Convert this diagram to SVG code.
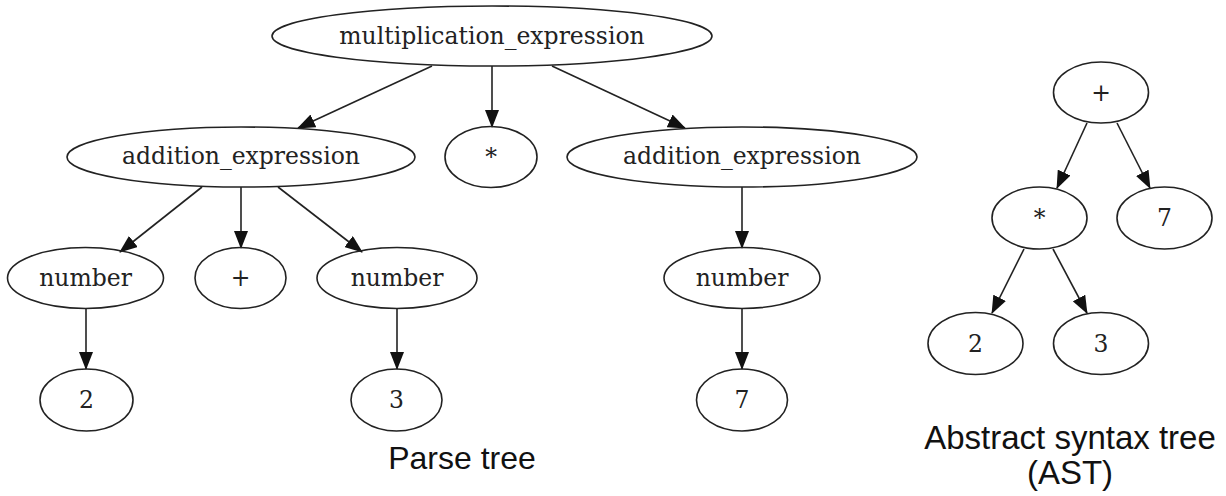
<svg xmlns="http://www.w3.org/2000/svg" width="1226" height="496" viewBox="0 0 1226 496">
<style>
.n ellipse{fill:none;stroke:#222;stroke-width:1.6}
.n text{font-family:"DejaVu Serif",serif;font-size:23.5px;fill:#222;text-anchor:middle}
.e line{stroke:#222;stroke-width:1.6;marker-end:url(#ah)}
.cap{font-family:"Liberation Sans",Arial,sans-serif;font-size:32px;fill:#111;text-anchor:middle}
.cap2{font-size:33px}
</style>
<defs>
<marker id="ah" markerUnits="userSpaceOnUse" markerWidth="18" markerHeight="14" refX="17" refY="7" orient="auto">
<path d="M0,0 L18,7 L0,14 z" fill="#111"/>
</marker>
</defs>
<rect width="1226" height="496" fill="#fff"/>
<g class="e" id="connectors">
<line x1="432" y1="66" x2="298" y2="128"/>
<line x1="492" y1="66" x2="492" y2="127"/>
<line x1="552" y1="66" x2="685" y2="128"/>
<line x1="202" y1="187" x2="120" y2="252"/>
<line x1="241" y1="187" x2="241" y2="248"/>
<line x1="278" y1="187" x2="362" y2="252"/>
<line x1="742" y1="187" x2="742" y2="248"/>
<line x1="86" y1="308" x2="86" y2="369"/>
<line x1="397" y1="308" x2="397" y2="369"/>
<line x1="742" y1="308" x2="742" y2="369"/>
<line x1="1087" y1="123" x2="1057" y2="188"/>
<line x1="1117" y1="123" x2="1150" y2="188"/>
<line x1="1024" y1="249" x2="992" y2="313"/>
<line x1="1053" y1="249" x2="1087" y2="313"/>
</g>
<g class="n" id="mult"><ellipse cx="492" cy="36" rx="220" ry="30"/><text x="492" y="44">multiplication_expression</text></g>
<g class="n" id="addL"><ellipse cx="241" cy="157" rx="174" ry="30"/><text x="241" y="164">addition_expression</text></g>
<g class="n" id="star"><ellipse cx="491" cy="157" rx="46" ry="30.5"/><text x="491" y="165">*</text></g>
<g class="n" id="addR"><ellipse cx="742" cy="157" rx="175" ry="30"/><text x="742" y="164">addition_expression</text></g>
<g class="n" id="numL"><ellipse cx="85.5" cy="278" rx="78" ry="30.5"/><text x="85.5" y="286">number</text></g>
<g class="n" id="plus"><ellipse cx="240.5" cy="278" rx="45.5" ry="30.5"/><text x="240.5" y="286">+</text></g>
<g class="n" id="numM"><ellipse cx="397" cy="278" rx="80" ry="30.5"/><text x="397" y="286">number</text></g>
<g class="n" id="numR"><ellipse cx="742" cy="278" rx="78" ry="30.5"/><text x="742" y="286">number</text></g>
<g class="n" id="two"><ellipse cx="86.5" cy="400" rx="46.5" ry="31"/><text x="86.5" y="408">2</text></g>
<g class="n" id="three"><ellipse cx="396.5" cy="400" rx="45.5" ry="31"/><text x="396.5" y="408">3</text></g>
<g class="n" id="seven"><ellipse cx="742" cy="400" rx="45.5" ry="31"/><text x="742" y="408">7</text></g>
<g class="n" id="astPlus"><ellipse cx="1101" cy="92.5" rx="47.5" ry="30.5"/><text x="1101" y="100.5">+</text></g>
<g class="n" id="astStar"><ellipse cx="1039.5" cy="218" rx="47.5" ry="31"/><text x="1039.5" y="226">*</text></g>
<g class="n" id="astSeven"><ellipse cx="1164.5" cy="218" rx="47.5" ry="31"/><text x="1164.5" y="226">7</text></g>
<g class="n" id="astTwo"><ellipse cx="975.5" cy="343.5" rx="47.5" ry="31"/><text x="975.5" y="351.5">2</text></g>
<g class="n" id="astThree"><ellipse cx="1101" cy="343.5" rx="47.5" ry="31"/><text x="1101" y="351.5">3</text></g>
<text class="cap" x="462" y="469">Parse tree</text>
<text class="cap cap2" x="1070" y="449">Abstract syntax tree</text>
<text class="cap cap2" x="1070" y="484">(AST)</text>
</svg>
